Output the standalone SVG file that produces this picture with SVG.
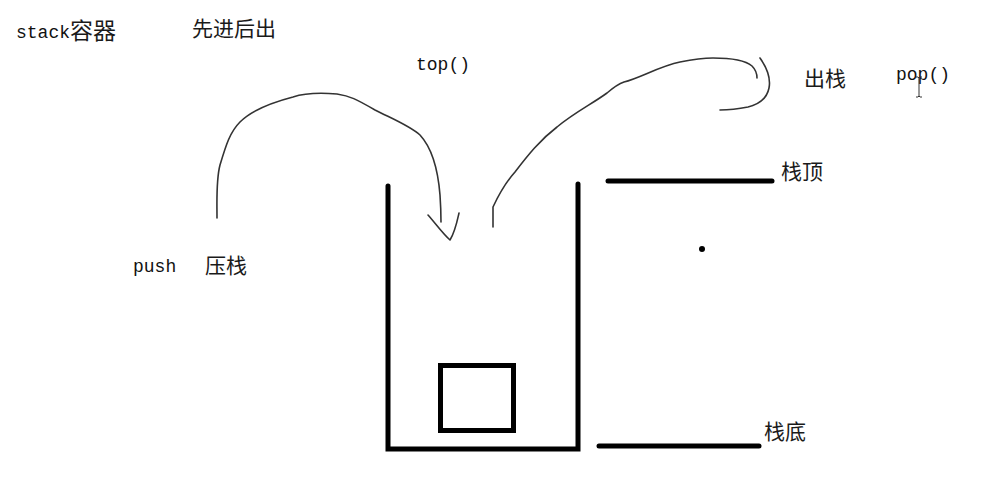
<svg xmlns="http://www.w3.org/2000/svg" width="995" height="497" viewBox="0 0 995 497">
<style>
.t{font-family:"Liberation Mono","Noto Sans CJK SC",monospace;font-size:18px;fill:#111}
.c{font-family:"Noto Sans CJK SC","Noto Sans",sans-serif;font-size:21px;fill:#1a1a1a}
.thick{fill:none;stroke:#000;stroke-width:5;stroke-linecap:round}
.thin{fill:none;stroke:#333;stroke-width:1.6;stroke-linecap:round;stroke-linejoin:round}
</style>
<rect width="995" height="497" fill="#fff"/>
<g id="labels">
<text class="t" x="16" y="38">stack<tspan class="c" style="font-size:23px" dy="1">容器</tspan></text>
<text class="c" x="192" y="36">先进后出</text>
<text class="t" x="416" y="70">top()</text>
<text class="t" x="133" y="272">push</text>
<text class="c" x="205" y="273">压栈</text>
<text class="c" x="804" y="86">出栈</text>
<text class="t" x="896" y="80">pop()</text>
<text class="c" x="781" y="179">栈顶</text>
<text class="c" x="764" y="439">栈底</text>
</g>
<g id="container">
<path class="thick" d="M388,186 L388,449 L578,449 L578,184"/>
</g>
<g id="element">
<rect x="440.5" y="365.5" width="73" height="65" fill="none" stroke="#000" stroke-width="5"/>
</g>
<g id="top-marker">
<line class="thick" x1="608" y1="181" x2="772" y2="181"/>
</g>
<g id="bottom-marker">
<line class="thick" x1="599" y1="446" x2="759" y2="446"/>
</g>
<circle cx="702" cy="249" r="3" fill="#000"/>
<g id="connectors">
<path class="thin" d="M217,218 C217,200 216,180 220,165 C226,145 230,132 240,122 C252,110 270,103 293,97 C305,93 325,93 337,94 C350,96 356,99 375,110 C395,120 410,126 420,135 C432,148 438,170 440,195 C441,210 441,218 441,222"/>
<path class="thin" d="M428,215 C436,224 443,234 450,240 C455,232 457,222 459,213"/>
<path class="thin" d="M493,227 L493,207 C500,192 506,182 515,172 C528,155 540,140 557,127 C575,112 592,104 607,93 C614,87 618,84 624,82 C640,78 660,66 680,62 C695,59 705,58 713,58 C730,58 745,60 752,66 C756,70 757,74 757,78"/>
<path class="thin" d="M760,58 C767,68 771,78 769,88 C767,98 760,104 748,107 C738,109 728,110 720,110"/>
</g>
<g id="cursor">
<path d="M916,77 L918,77 L919,78 L920,77 L922,77 M919,78 L919,96 M916,97 L918,97 L919,96 L920,97 L922,97" fill="none" stroke="#333" stroke-width="1"/>
</g>
</svg>
